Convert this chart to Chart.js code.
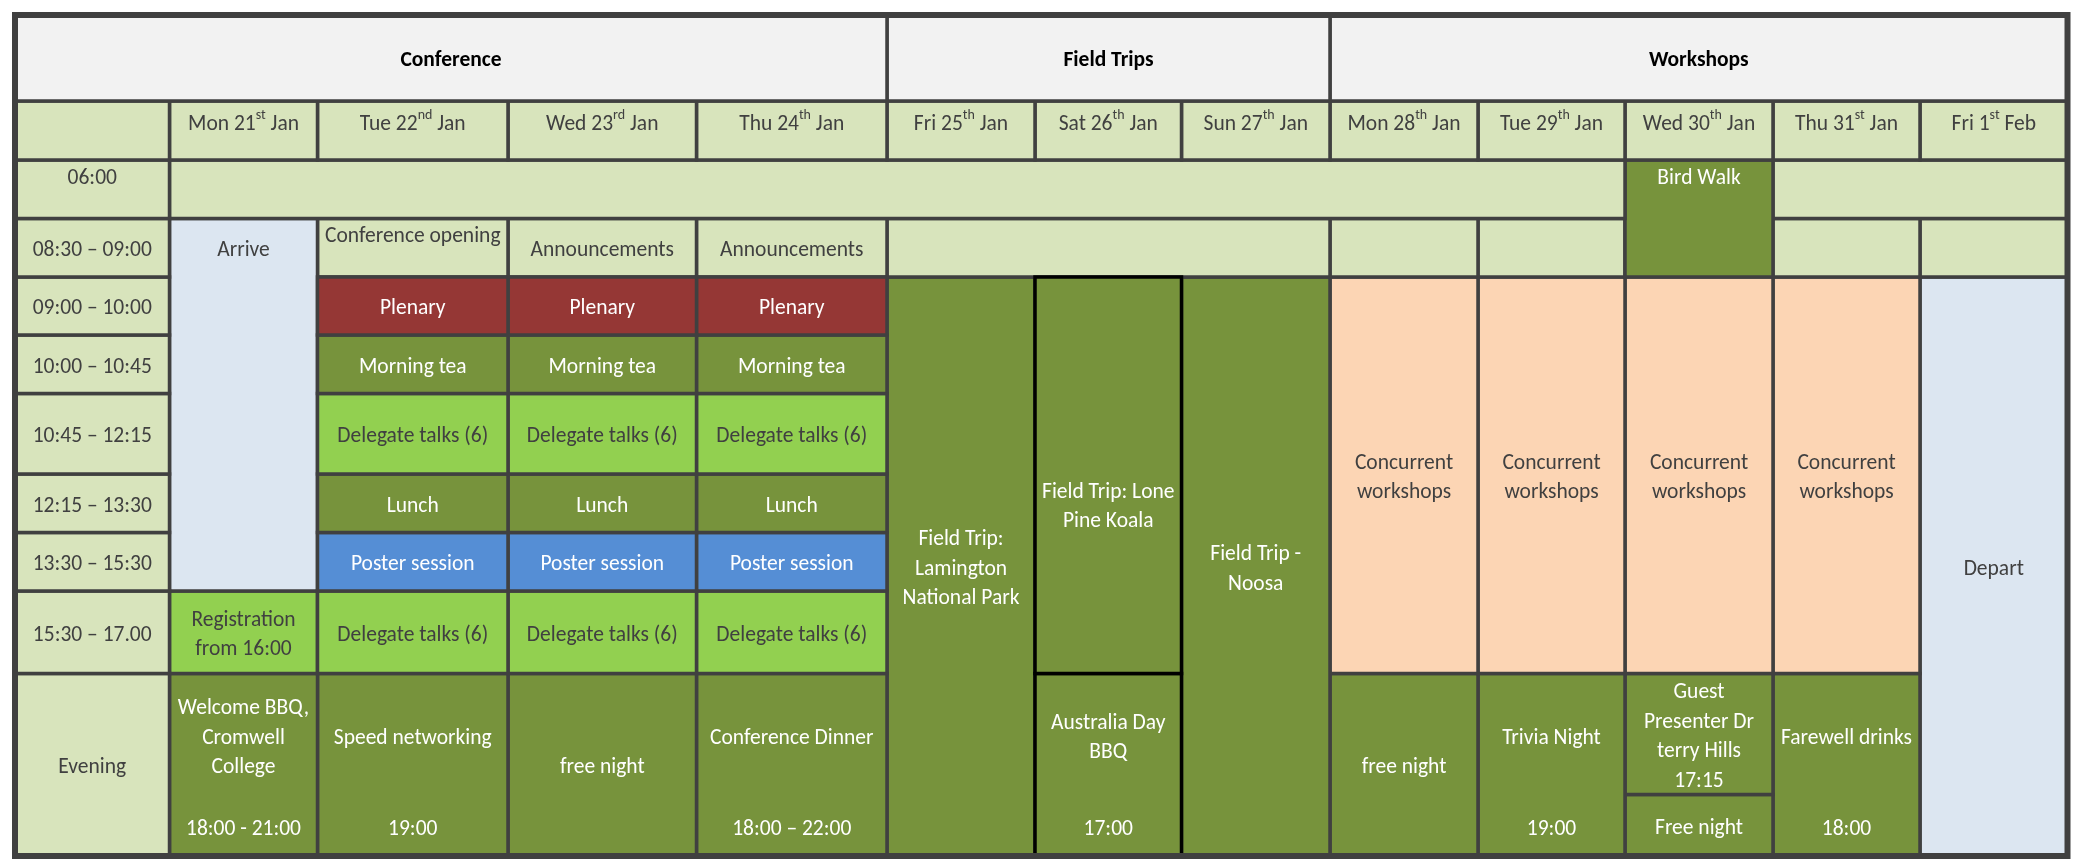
<!DOCTYPE html>
<html>
<head>
<meta charset="utf-8">
<title>Conference timetable</title>
<script src="https://cdn.jsdelivr.net/npm/chart.js@4.4.1/dist/chart.umd.min.js"></script>
<style>
  body { margin: 0; background: #fff; }
  #timetable { display: block; }
</style>
</head>
<body>
<canvas id="timetable" width="2083" height="867"></canvas>
<script>
// ---- data ----
var sections = ["Conference", "Field Trips", "Workshops"];
var sectionCols = [[0, 4], [5, 7], [8, 12]];

var dayNames = ["Mon", "Tue", "Wed", "Thu", "Fri", "Sat", "Sun", "Mon", "Tue", "Wed", "Thu", "Fri"];
var dayNums = ["21", "22", "23", "24", "25", "26", "27", "28", "29", "30", "31", "1"];
var daySuffix = ["st", "nd", "rd", "th", "th", "th", "th", "th", "th", "th", "st", "st"];
var dayMonths = ["Jan", "Jan", "Jan", "Jan", "Jan", "Jan", "Jan", "Jan", "Jan", "Jan", "Jan", "Feb"];

var timeSlots = ["06:00", "08:30 – 09:00", "09:00 – 10:00", "10:00 – 10:45", "10:45 – 12:15",
  "12:15 – 13:30", "13:30 – 15:30", "15:30 – 17.00", "Evening"];

// conference days (Tue-Thu), slots 2..7
var confDays = [1, 2, 3];
var confProgram = ["Plenary", "Morning tea", "Delegate talks (6)", "Lunch", "Poster session", "Delegate talks (6)"];
var confKinds = ["plenary", "meal", "talks", "meal", "poster", "talks"];

// [first day, last day, first slot, last slot, kind, text, time]  (slot 8 = evening, 9 = late evening)
var events = [
  [0, 8, 0, 0, "blank", ""],
  [9, 9, 0, 1, "social", "Bird Walk"],
  [10, 11, 0, 0, "blank", ""],
  [0, 0, 1, 6, "arrive", "Arrive"],
  [1, 1, 1, 1, "blank", "Conference opening"],
  [2, 2, 1, 1, "blank", "Announcements"],
  [3, 3, 1, 1, "blank", "Announcements"],
  [4, 6, 1, 1, "blank", ""],
  [7, 7, 1, 1, "blank", ""],
  [8, 8, 1, 1, "blank", ""],
  [10, 10, 1, 1, "blank", ""],
  [11, 11, 1, 1, "blank", ""],
  [0, 0, 7, 7, "talks", "Registration\nfrom 16:00"],
  [0, 0, 8, 9, "social", "Welcome BBQ,\nCromwell\nCollege", "18:00 - 21:00"],
  [1, 1, 8, 9, "social", "Speed networking", "19:00"],
  [2, 2, 8, 9, "social", "free night"],
  [3, 3, 8, 9, "social", "Conference Dinner", "18:00 – 22:00"],
  [4, 4, 2, 9, "social", "Field Trip:\nLamington\nNational Park"],
  [5, 5, 2, 7, "social", "Field Trip: Lone\nPine Koala"],
  [5, 5, 8, 9, "social", "Australia Day\nBBQ", "17:00"],
  [6, 6, 2, 9, "social", "Field Trip -\nNoosa"],
  [7, 7, 2, 7, "workshop", "Concurrent\nworkshops"],
  [8, 8, 2, 7, "workshop", "Concurrent\nworkshops"],
  [9, 9, 2, 7, "workshop", "Concurrent\nworkshops"],
  [10, 10, 2, 7, "workshop", "Concurrent\nworkshops"],
  [7, 7, 8, 9, "social", "free night"],
  [8, 8, 8, 9, "social", "Trivia Night", "19:00"],
  [9, 9, 8, 8, "social", "Guest\nPresenter Dr\nterry Hills\n17:15"],
  [9, 9, 9, 9, "social", "Free night"],
  [10, 10, 8, 9, "social", "Farewell drinks", "18:00"],
  [11, 11, 2, 9, "arrive", "Depart"]
];

// ---- layout / style ----
var colWidths = [154.5, 148, 190.5, 188.5, 190.5, 148, 146.5, 148.5, 148, 147, 148, 147, 147.5];
var rowHeights = [86, 59, 58.5, 58.5, 58, 58.5, 80.5, 58.5, 58.5, 82.5, 121, 61.5];
var kindStyle = {
  blank: ["#d8e4bc", "#404040"],
  arrive: ["#dce6f1", "#404040"],
  plenary: ["#953735", "#ffffff"],
  meal: ["#77933c", "#ffffff"],
  talks: ["#92d050", "#404040"],
  poster: ["#558ed5", "#ffffff"],
  social: ["#77933c", "#ffffff"],
  workshop: ["#fcd5b4", "#404040"],
  head: ["#f2f2f2", "#000000"]
};
var topAligned = ["Bird Walk", "Conference opening", "06:00"];
var firstRowAligned = ["Arrive"];
var textShift = { "Field Trip: Lone\nPine Koala": 29 };
var blackEdgeDay = 5;
var gridColor = "#404040";
var fontFamily = "Carlito, Lato, 'Liberation Sans', sans-serif";
var fontSize = 21.5;
var supSize = 14;
var lineH = 29.5;
var textDrop = 3;

function cumulate(arr) {
  var out = [0];
  arr.forEach(function (v) { out.push(out[out.length - 1] + v); });
  return out;
}
var colEdges = cumulate(colWidths);
var rowEdges = cumulate(rowHeights);

var cells = [];
function addCell(c0, c1, r0, r1, kind, text, time, extra) {
  var cell = { c0: c0, c1: c1, r0: r0, r1: r1, kind: kind, text: text, time: time || null,
    fill: kindStyle[kind][0], color: kindStyle[kind][1], stroke: gridColor, order: 2 };
  if (extra) Object.assign(cell, extra);
  cells.push(cell);
}

sections.forEach(function (s, i) {
  addCell(sectionCols[i][0], sectionCols[i][1] + 1, 0, 1, "head", s, null, { bold: true });
});
addCell(0, 1, 1, 2, "blank", "");
dayNames.forEach(function (n, d) {
  addCell(d + 1, d + 2, 1, 2, "blank", "", null, { day: d });
});
timeSlots.forEach(function (t, s) {
  var last = s === 8 ? 9 : s;
  addCell(0, 1, s + 2, last + 3, "blank", t);
});
confDays.forEach(function (d) {
  confProgram.forEach(function (p, k) {
    addCell(d + 1, d + 2, k + 4, k + 5, confKinds[k], p);
  });
});
events.forEach(function (e) {
  var extra = null;
  if (e[0] === blackEdgeDay && e[1] === blackEdgeDay && e[2] >= 2) extra = { stroke: "#000000", order: 1 };
  addCell(e[0] + 1, e[1] + 2, e[2] + 2, e[3] + 3, e[4], e[5], e[6], extra);
});

function rectData(c) {
  var x0 = colEdges[c.c0], x1 = colEdges[c.c1], y0 = rowEdges[c.r0], y1 = rowEdges[c.r1];
  return [{ x: x0, y: y0 }, { x: x1, y: y0 }, { x: x1, y: y1 }, { x: x0, y: y1 }, { x: x0, y: y0 }];
}

var datasets = cells.map(function (c) {
  return {
    data: rectData(c),
    backgroundColor: c.fill,
    borderColor: c.stroke,
    borderWidth: 3.5,
    fill: "shape",
    order: c.order,
    pointRadius: 0,
    tension: 0,
    borderCapStyle: "square",
    borderJoinStyle: "miter",
    clip: false
  };
});
var totalW = colEdges[colEdges.length - 1];
var totalH = rowEdges[rowEdges.length - 1];
datasets.push({
  data: rectData({ c0: 0, c1: colWidths.length, r0: 0, r1: rowHeights.length }),
  borderColor: gridColor,
  borderWidth: 6,
  fill: false,
  order: 0,
  pointRadius: 0,
  borderCapStyle: "square",
  borderJoinStyle: "miter",
  clip: false
});

var textPlugin = {
  id: "cellText",
  afterDatasetsDraw: function (chart) {
    var ctx = chart.ctx, xs = chart.scales.x, ys = chart.scales.y;
    ctx.save();
    ctx.textAlign = "center";
    cells.forEach(function (c) {
      var left = xs.getPixelForValue(colEdges[c.c0]);
      var right = xs.getPixelForValue(colEdges[c.c1]);
      var top = ys.getPixelForValue(rowEdges[c.r0]);
      var bottom = ys.getPixelForValue(rowEdges[c.r1]);
      var cx = (left + right) / 2;
      ctx.fillStyle = c.color;

      if (c.day !== undefined) {
        var d = c.day;
        var main1 = dayNames[d] + " " + dayNums[d];
        var main2 = " " + dayMonths[d];
        ctx.font = fontSize + "px " + fontFamily;
        var w1 = ctx.measureText(main1).width, w3 = ctx.measureText(main2).width;
        ctx.font = supSize + "px " + fontFamily;
        var w2 = ctx.measureText(daySuffix[d]).width;
        var x = cx - (w1 + w2 + w3) / 2;
        ctx.textAlign = "left";
        ctx.textBaseline = "alphabetic";
        ctx.font = fontSize + "px " + fontFamily;
        ctx.fillText(main1, x, top + 28.5);
        ctx.fillText(main2, x + w1 + w2, top + 28.5);
        ctx.font = supSize + "px " + fontFamily;
        ctx.fillText(daySuffix[d], x + w1, top + 18);
        ctx.textAlign = "center";
        return;
      }
      if (!c.text) return;
      ctx.font = (c.bold ? "bold " : "") + fontSize + "px " + fontFamily;
      ctx.textBaseline = "middle";
      var lines = c.text.split("\n");
      var y0;
      if (topAligned.indexOf(c.text) >= 0) {
        y0 = top + 15.5;
      } else if (firstRowAligned.indexOf(c.text) >= 0) {
        y0 = (top + ys.getPixelForValue(rowEdges[c.r0 + 1])) / 2;
      } else {
        var mid = (top + bottom) / 2;
        if (c.time) mid -= lineH;
        mid += textShift[c.text] || 0;
        y0 = mid - (lines.length - 1) * lineH / 2;
      }
      y0 += textDrop;
      lines.forEach(function (l, i) {
        ctx.fillText(l, cx, y0 + i * lineH);
      });
      if (c.time) ctx.fillText(c.time, cx, bottom - 29 + textDrop);
    });
    ctx.restore();
  }
};

var ctx = document.getElementById("timetable").getContext("2d");
var timetable = new Chart(ctx, {
  type: "line",
  data: { datasets: datasets },
  options: {
    responsive: false,
    animation: false,
    events: [],
    layout: { padding: { left: 15, right: 2083 - 15 - totalW, top: 15, bottom: 867 - 15 - totalH } },
    scales: {
      x: { type: "linear", min: 0, max: totalW, display: false },
      y: { type: "linear", min: 0, max: totalH, reverse: true, display: false }
    },
    plugins: {
      legend: { display: false },
      tooltip: { enabled: false }
    }
  },
  plugins: [textPlugin]
});
</script>
</body>
</html>
